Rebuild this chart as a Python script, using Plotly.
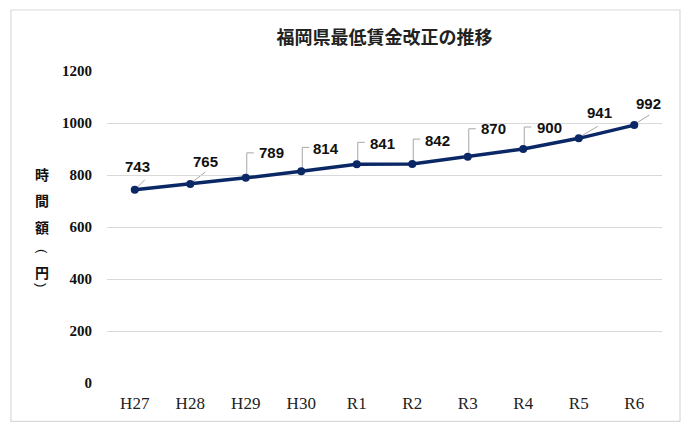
import plotly.graph_objects as go

categories = ["H27", "H28", "H29", "H30", "R1", "R2", "R3", "R4", "R5", "R6"]
wages = [743, 765, 789, 814, 841, 842, 870, 900, 941, 992]
y_ticks = [0, 200, 400, 600, 800, 1000, 1200]

# label offsets (pixels) and leader style
label_dx = [3, 15, 26, 25, 26, 25, 26, 26, 21, 14]
label_dy = [-23, -23, -25, -23, -21, -24, -28, -22, -26, -22]
leader_kind = ["diag", "diag", "elbow", "elbow", "elbow", "elbow", "elbow", "elbow", "diag", "diag"]
leader_end = [(10, -10), (15, -12), (1, -25), (1, -24), (1, -22), (1, -25), (1, -28), (1, -22), (19, -12), (15, -10)]

LINE = "#0b2866"

fig = go.Figure()
fig.add_trace(go.Scatter(
    x=categories, y=wages, mode="lines+markers",
    line=dict(color=LINE, width=3.5),
    marker=dict(color=LINE, size=8),
    hoverinfo="skip", showlegend=False,
))

shapes = []
annotations = []
for c, v, dx, dy, kind, (ex, ey) in zip(categories, wages, label_dx, label_dy, leader_kind, leader_end):
    # pixel-mode path: y axis points up, so flip the screen offsets
    if kind == "elbow":
        path = f"M 1,3 L {ex},{-ey} L {ex+7},{-ey}"
    else:
        path = f"M 2,2 L {ex},{-ey}"
    shapes.append(dict(
        type="path", xref="x", yref="y", xsizemode="pixel", ysizemode="pixel",
        xanchor=c, yanchor=v, path=path,
        line=dict(color="#a6a6a6", width=1), layer="below",
    ))
    annotations.append(dict(
        x=c, y=v, xref="x", yref="y", text=f"<b>{v}</b>", showarrow=True,
        arrowcolor="rgba(0,0,0,0)", ax=dx, ay=dy, xanchor="center", yanchor="middle",
        font=dict(family="Liberation Sans, Arial", size=15, color="#111111"),
    ))

# outer border
shapes.append(dict(type="rect", xref="paper", yref="paper", x0=-0.1730, x1=1.0324, y0=-0.1228, y1=1.1955,
                   line=dict(color="#d9d9d9", width=1.2), fillcolor="rgba(0,0,0,0)", layer="below"))

# vertical axis title, one character per line
title_chars = ["時", "間", "額", "(", "円", ")"]
title_ypix = [173.5, 200, 227, 251, 272, 285]
for ch, yp in zip(title_chars, title_ypix):
    rot = ch in ("(", ")")
    annotations.append(dict(
        text=ch if rot else f"<b>{ch}</b>", xref="paper", yref="paper", x=(42 - 107) / 555, y=(383 - yp) / 312,
        showarrow=False, xanchor="center", yanchor="middle", textangle=90 if rot else 0,
        font=dict(family="Liberation Sans" if rot else "Noto Sans CJK JP", size=13 if rot else 14, color="#111111"),
    ))

fig.update_layout(
    width=690, height=436,
    margin=dict(l=107, r=28, t=71, b=53),
    paper_bgcolor="white", plot_bgcolor="white",
    title=dict(text="<b>福岡県最低賃金改正の推移</b>", x=0.5, xref="paper", xanchor="center", y=0.913, yanchor="middle",
               font=dict(family="Noto Sans CJK JP", size=18, color="#222222")),
    xaxis=dict(range=[-0.5, 9.5], showgrid=False, showline=False, ticks="", zeroline=False,
               tickfont=dict(family="Liberation Serif", size=17, color="#222222"),
               ticklabelstandoff=8),
    yaxis=dict(range=[0, 1200], tickvals=y_ticks, ticktext=[f"<b>{t}</b>" for t in y_ticks],
               showgrid=True, gridcolor="#d9d9d9", gridwidth=1.3, zeroline=False, showline=False,
               tickfont=dict(family="Liberation Serif", size=15, color="#111111"),
               ticklabelstandoff=14),
    shapes=shapes, annotations=annotations,
)

fig.write_html("out.html")
